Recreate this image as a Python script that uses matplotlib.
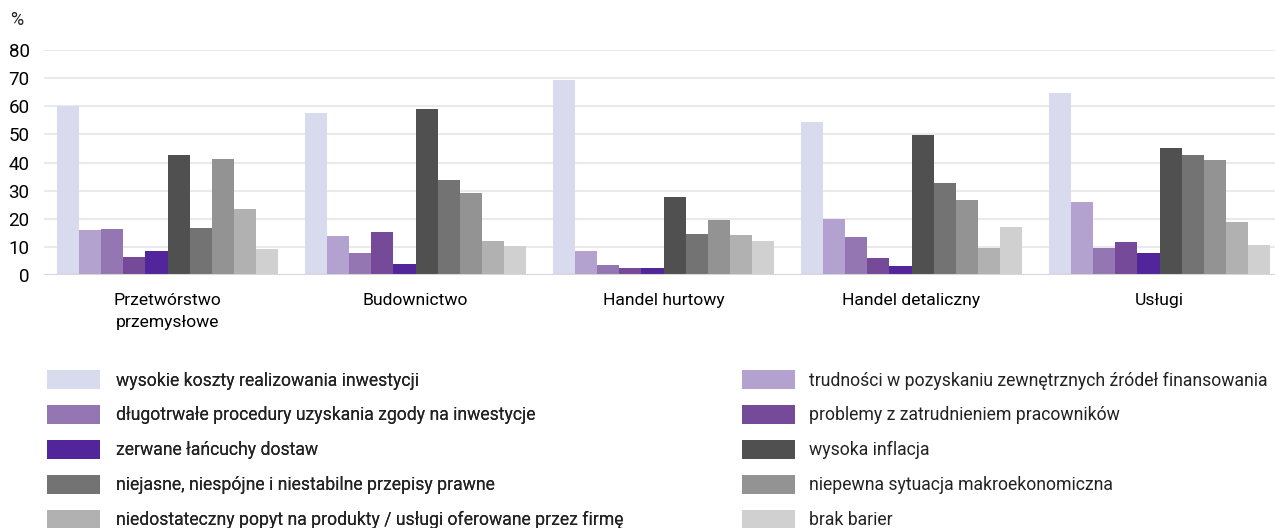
import matplotlib.pyplot as plt
from matplotlib import font_manager
from matplotlib.patches import Patch
import numpy as np

# sektory
categories = ["Przetwórstwo\nprzemysłowe", "Budownictwo", "Handel hurtowy",
              "Handel detaliczny", "Usługi"]

series_names = [
    "wysokie koszty realizowania inwestycji",
    "trudności w pozyskaniu zewnętrznych źródeł finansowania",
    "długotrwałe procedury uzyskania zgody na inwestycje",
    "problemy z zatrudnieniem pracowników",
    "zerwane łańcuchy dostaw",
    "wysoka inflacja",
    "niejasne, niespójne i niestabilne przepisy prawne",
    "niepewna sytuacja makroekonomiczna",
    "niedostateczny popyt na produkty / usługi oferowane przez firmę",
    "brak barier",
]

# wartości (%) dla każdej bariery, kolejno dla sektorów
wysokie_koszty = [60.1, 57.5, 69.3, 54.4, 64.8]
trudnosci_finansowanie = [16.0, 14.0, 8.4, 20.0, 25.8]
dlugotrwale_procedury = [16.5, 7.8, 3.4, 13.4, 9.5]
problemy_zatrudnienie = [6.5, 15.4, 2.5, 5.9, 11.7]
zerwane_lancuchy = [8.7, 4.0, 2.5, 3.1, 7.7]
wysoka_inflacja = [42.7, 58.9, 27.9, 49.9, 45.0]
niejasne_przepisy = [16.8, 33.8, 14.7, 32.8, 42.5]
niepewna_sytuacja = [41.1, 29.2, 19.6, 26.8, 41.0]
niedostateczny_popyt = [23.5, 12.0, 14.1, 9.5, 18.7]
brak_barier = [9.2, 10.4, 12.1, 17.1, 10.5]

values = [wysokie_koszty, trudnosci_finansowanie, dlugotrwale_procedury,
          problemy_zatrudnienie, zerwane_lancuchy, wysoka_inflacja,
          niejasne_przepisy, niepewna_sytuacja, niedostateczny_popyt, brak_barier]

colors = ["#D8DAEE", "#B3A1CF", "#9477B2", "#754B99", "#52259A",
          "#505050", "#737373", "#939393", "#B1B1B1", "#D0D0D0"]

# czcionka - wąska jeśli jest dostępna
installed = {f.name for f in font_manager.fontManager.ttflist}
if "Liberation Sans Narrow" in installed:
    plt.rcParams["font.family"] = ["Liberation Sans Narrow", "DejaVu Sans"]
else:
    plt.rcParams["font.family"] = ["Roboto", "DejaVu Sans"]
plt.rcParams["text.color"] = "#222222"

W, H = 1275, 528
fig = plt.figure(figsize=(W / 100, H / 100), dpi=100)
left, bottom, top = 43.5 / W, 1 - 275 / H, 1 - 50 / H
ax = fig.add_axes([left, bottom, 1 - left, top - bottom])

x = np.arange(len(categories))
n = len(values)
group_w = 221 / 248
bw = group_w / n
for i, vals in enumerate(values):
    ax.bar(x - group_w / 2 + bw * (i + 0.5), vals, width=bw, color=colors[i],
           linewidth=0, zorder=3, label=series_names[i])

ax.set_ylim(0, 80)
ax.set_xlim(-0.5, (W - 167.5) / 248)
ax.set_yticks(range(0, 81, 10))
ax.set_xticks(x)
ax.set_xticklabels(categories, fontsize=12.6, linespacing=1.6)
ax.tick_params(axis="y", length=0, pad=10, labelsize=13.5)
ax.tick_params(axis="x", length=0, pad=13)
for s in ax.spines.values():
    s.set_visible(False)
ax.grid(axis="y", color="#e9e9ee", linewidth=1.5, zorder=0)
ax.axhline(0, color="#d6d6d6", linewidth=1.5, zorder=4)

fig.text(10 / W, 1 - 20 / H, "%", fontsize=13, va="center", ha="left")

# legenda w dwóch kolumnach, wierszami
lfs = 12.7
em = lfs * 100 / 72


def make_legend(idx, x0, gap):
    handles = [Patch(facecolor=colors[i], edgecolor="none") for i in idx]
    labels = [series_names[i] for i in idx]
    leg = fig.legend(handles, labels, loc="upper left",
                     bbox_to_anchor=(x0 / W, 1 - 370 / H), frameon=False,
                     fontsize=lfs, handlelength=53 / em, handleheight=23 / em,
                     handletextpad=gap / em, labelspacing=0.87, borderpad=0,
                     borderaxespad=0)
    return leg


fig.add_artist(make_legend([0, 2, 4, 6, 8], 47, 16))
make_legend([1, 3, 5, 7, 9], 742, 14)

fig.savefig("out.png", dpi=100)
